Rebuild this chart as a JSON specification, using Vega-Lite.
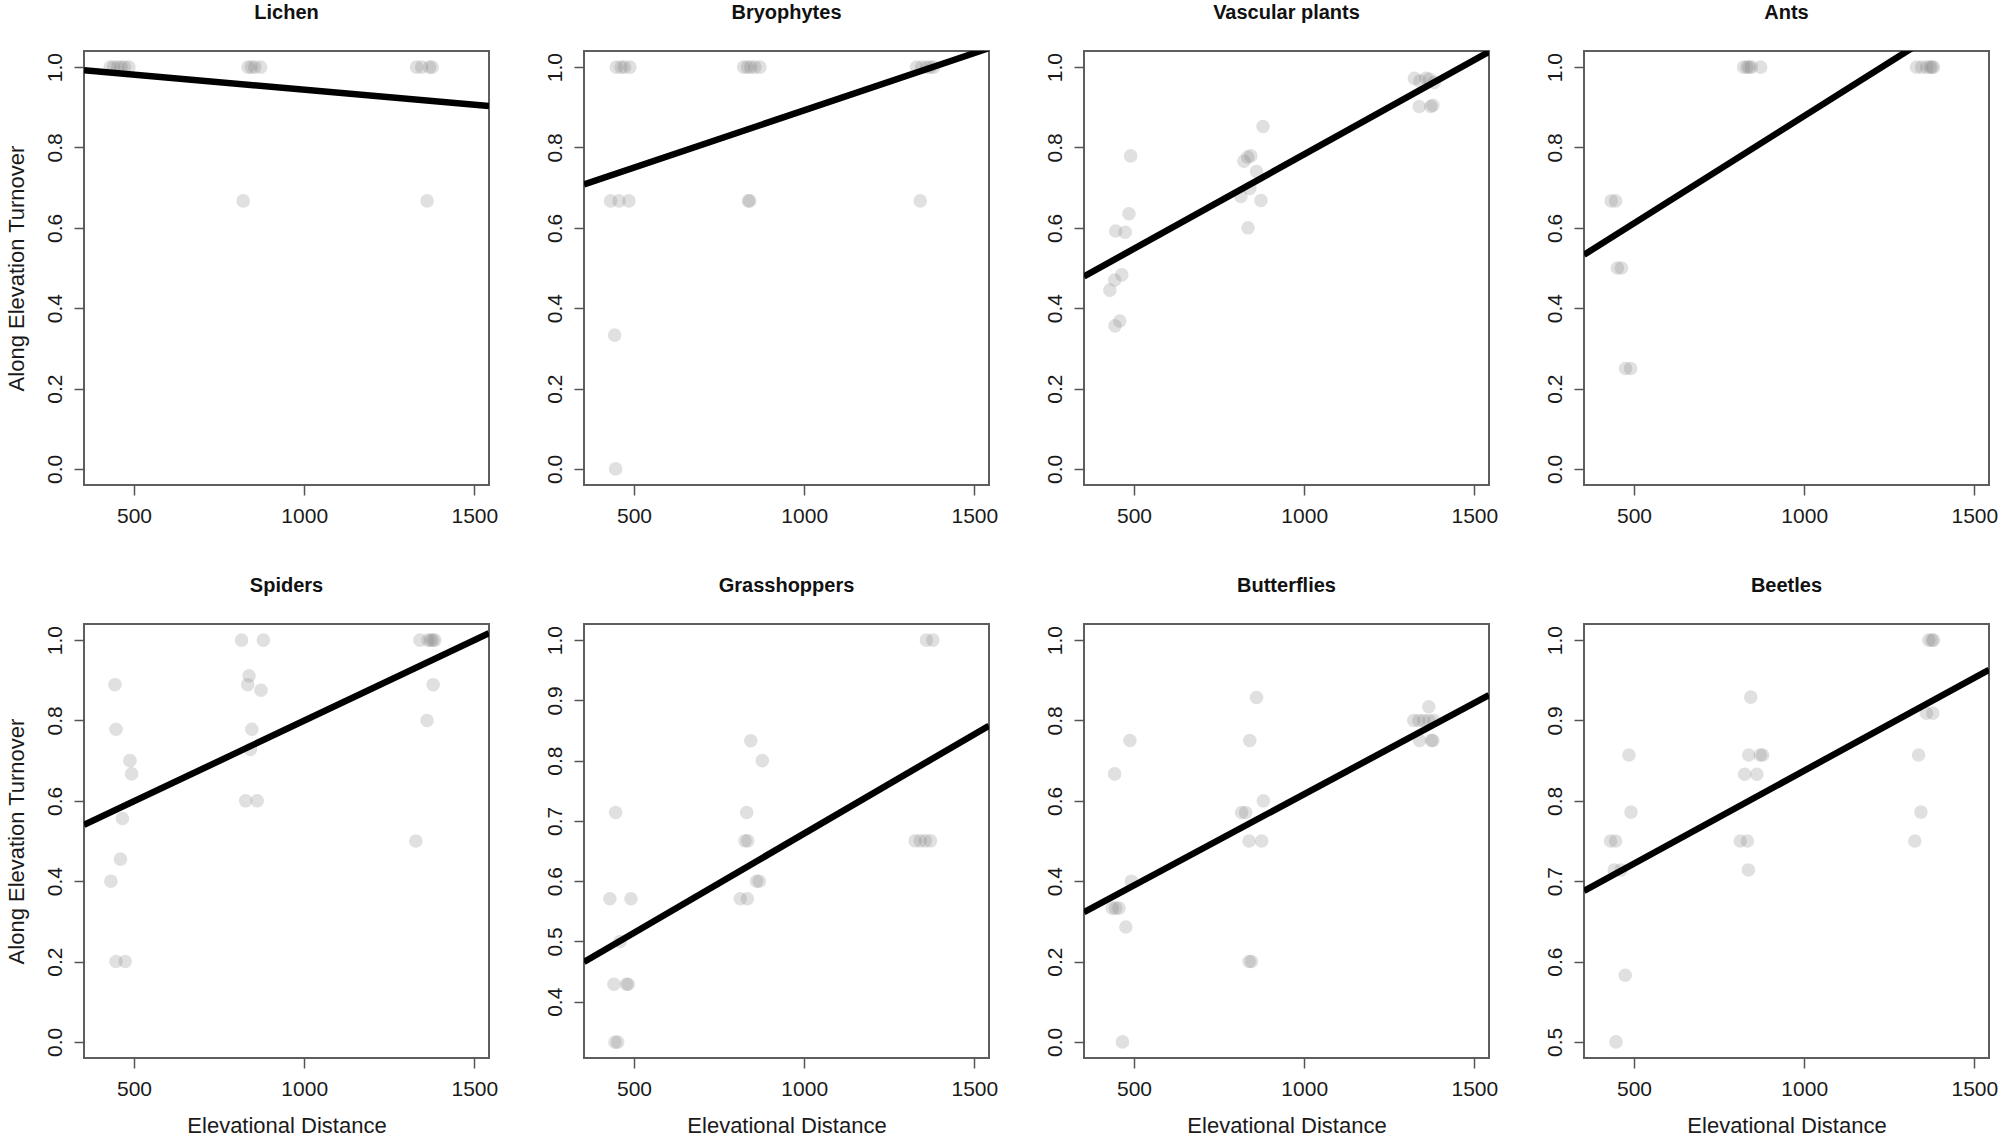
{
  "$schema": "https://vega.github.io/schema/vega-lite/v6.json",
  "background": "white",
  "padding": {"left": 4, "top": 2, "right": 5, "bottom": 2},
  "bounds": "flush",
  "columns": 4,
  "spacing": {"row": 139, "column": 95},
  "datasets": {
    "pts": [
      {"panel": "Lichen", "x": 430, "y": 1.0}, {"panel": "Lichen", "x": 440, "y": 1.0}, {"panel": "Lichen", "x": 452, "y": 1.0}, {"panel": "Lichen", "x": 462, "y": 1.0}, {"panel": "Lichen", "x": 472, "y": 1.0}, {"panel": "Lichen", "x": 485, "y": 1.0},
      {"panel": "Lichen", "x": 835, "y": 1.0}, {"panel": "Lichen", "x": 845, "y": 1.0}, {"panel": "Lichen", "x": 855, "y": 1.0}, {"panel": "Lichen", "x": 872, "y": 1.0},
      {"panel": "Lichen", "x": 1330, "y": 1.0}, {"panel": "Lichen", "x": 1345, "y": 1.0}, {"panel": "Lichen", "x": 1368, "y": 1.0}, {"panel": "Lichen", "x": 1376, "y": 1.0},
      {"panel": "Lichen", "x": 821, "y": 0.667}, {"panel": "Lichen", "x": 1361, "y": 0.667},

      {"panel": "Bryophytes", "x": 448, "y": 1.0}, {"panel": "Bryophytes", "x": 462, "y": 1.0}, {"panel": "Bryophytes", "x": 472, "y": 1.0}, {"panel": "Bryophytes", "x": 488, "y": 1.0},
      {"panel": "Bryophytes", "x": 822, "y": 1.0}, {"panel": "Bryophytes", "x": 833, "y": 1.0}, {"panel": "Bryophytes", "x": 843, "y": 1.0}, {"panel": "Bryophytes", "x": 855, "y": 1.0}, {"panel": "Bryophytes", "x": 870, "y": 1.0},
      {"panel": "Bryophytes", "x": 1330, "y": 1.0}, {"panel": "Bryophytes", "x": 1345, "y": 1.0}, {"panel": "Bryophytes", "x": 1360, "y": 1.0}, {"panel": "Bryophytes", "x": 1370, "y": 1.0}, {"panel": "Bryophytes", "x": 1380, "y": 1.0},
      {"panel": "Bryophytes", "x": 431, "y": 0.667}, {"panel": "Bryophytes", "x": 456, "y": 0.667}, {"panel": "Bryophytes", "x": 485, "y": 0.667}, {"panel": "Bryophytes", "x": 836, "y": 0.667}, {"panel": "Bryophytes", "x": 840, "y": 0.667}, {"panel": "Bryophytes", "x": 1341, "y": 0.667},
      {"panel": "Bryophytes", "x": 443, "y": 0.333}, {"panel": "Bryophytes", "x": 446, "y": 0.0},

      {"panel": "Vascular plants", "x": 1324, "y": 0.972}, {"panel": "Vascular plants", "x": 1340, "y": 0.965}, {"panel": "Vascular plants", "x": 1358, "y": 0.972}, {"panel": "Vascular plants", "x": 1368, "y": 0.970}, {"panel": "Vascular plants", "x": 1382, "y": 0.962},
      {"panel": "Vascular plants", "x": 1338, "y": 0.902}, {"panel": "Vascular plants", "x": 1372, "y": 0.902}, {"panel": "Vascular plants", "x": 1378, "y": 0.905},
      {"panel": "Vascular plants", "x": 879, "y": 0.852}, {"panel": "Vascular plants", "x": 490, "y": 0.779}, {"panel": "Vascular plants", "x": 823, "y": 0.766}, {"panel": "Vascular plants", "x": 834, "y": 0.776}, {"panel": "Vascular plants", "x": 843, "y": 0.779},
      {"panel": "Vascular plants", "x": 860, "y": 0.740}, {"panel": "Vascular plants", "x": 840, "y": 0.698}, {"panel": "Vascular plants", "x": 814, "y": 0.678}, {"panel": "Vascular plants", "x": 873, "y": 0.668}, {"panel": "Vascular plants", "x": 835, "y": 0.600},
      {"panel": "Vascular plants", "x": 485, "y": 0.635}, {"panel": "Vascular plants", "x": 446, "y": 0.592}, {"panel": "Vascular plants", "x": 474, "y": 0.589}, {"panel": "Vascular plants", "x": 464, "y": 0.483}, {"panel": "Vascular plants", "x": 443, "y": 0.470},
      {"panel": "Vascular plants", "x": 429, "y": 0.445}, {"panel": "Vascular plants", "x": 458, "y": 0.368}, {"panel": "Vascular plants", "x": 444, "y": 0.356},

      {"panel": "Ants", "x": 822, "y": 1.0}, {"panel": "Ants", "x": 832, "y": 1.0}, {"panel": "Ants", "x": 838, "y": 1.0}, {"panel": "Ants", "x": 845, "y": 1.0}, {"panel": "Ants", "x": 872, "y": 1.0},
      {"panel": "Ants", "x": 1330, "y": 1.0}, {"panel": "Ants", "x": 1345, "y": 1.0}, {"panel": "Ants", "x": 1360, "y": 1.0}, {"panel": "Ants", "x": 1370, "y": 1.0}, {"panel": "Ants", "x": 1375, "y": 1.0}, {"panel": "Ants", "x": 1380, "y": 1.0},
      {"panel": "Ants", "x": 433, "y": 0.667}, {"panel": "Ants", "x": 446, "y": 0.667}, {"panel": "Ants", "x": 451, "y": 0.5}, {"panel": "Ants", "x": 463, "y": 0.5}, {"panel": "Ants", "x": 475, "y": 0.25}, {"panel": "Ants", "x": 490, "y": 0.25},

      {"panel": "Spiders", "x": 816, "y": 1.0}, {"panel": "Spiders", "x": 880, "y": 1.0}, {"panel": "Spiders", "x": 1340, "y": 1.0}, {"panel": "Spiders", "x": 1364, "y": 1.0}, {"panel": "Spiders", "x": 1372, "y": 1.0}, {"panel": "Spiders", "x": 1378, "y": 1.0}, {"panel": "Spiders", "x": 1384, "y": 1.0},
      {"panel": "Spiders", "x": 444, "y": 0.889}, {"panel": "Spiders", "x": 447, "y": 0.778}, {"panel": "Spiders", "x": 488, "y": 0.700}, {"panel": "Spiders", "x": 493, "y": 0.667}, {"panel": "Spiders", "x": 466, "y": 0.556},
      {"panel": "Spiders", "x": 460, "y": 0.455}, {"panel": "Spiders", "x": 432, "y": 0.400}, {"panel": "Spiders", "x": 447, "y": 0.200}, {"panel": "Spiders", "x": 474, "y": 0.200},
      {"panel": "Spiders", "x": 838, "y": 0.911}, {"panel": "Spiders", "x": 834, "y": 0.889}, {"panel": "Spiders", "x": 873, "y": 0.875}, {"panel": "Spiders", "x": 846, "y": 0.778}, {"panel": "Spiders", "x": 842, "y": 0.728},
      {"panel": "Spiders", "x": 828, "y": 0.600}, {"panel": "Spiders", "x": 862, "y": 0.600}, {"panel": "Spiders", "x": 1379, "y": 0.889}, {"panel": "Spiders", "x": 1361, "y": 0.800}, {"panel": "Spiders", "x": 1328, "y": 0.500},

      {"panel": "Grasshoppers", "x": 1359, "y": 1.0}, {"panel": "Grasshoppers", "x": 1378, "y": 1.0}, {"panel": "Grasshoppers", "x": 843, "y": 0.833}, {"panel": "Grasshoppers", "x": 877, "y": 0.800},
      {"panel": "Grasshoppers", "x": 446, "y": 0.714}, {"panel": "Grasshoppers", "x": 831, "y": 0.714}, {"panel": "Grasshoppers", "x": 826, "y": 0.667}, {"panel": "Grasshoppers", "x": 834, "y": 0.667},
      {"panel": "Grasshoppers", "x": 1326, "y": 0.667}, {"panel": "Grasshoppers", "x": 1341, "y": 0.667}, {"panel": "Grasshoppers", "x": 1356, "y": 0.667}, {"panel": "Grasshoppers", "x": 1371, "y": 0.667},
      {"panel": "Grasshoppers", "x": 860, "y": 0.600}, {"panel": "Grasshoppers", "x": 868, "y": 0.600}, {"panel": "Grasshoppers", "x": 429, "y": 0.571}, {"panel": "Grasshoppers", "x": 491, "y": 0.571},
      {"panel": "Grasshoppers", "x": 812, "y": 0.571}, {"panel": "Grasshoppers", "x": 833, "y": 0.571}, {"panel": "Grasshoppers", "x": 459, "y": 0.500}, {"panel": "Grasshoppers", "x": 441, "y": 0.429},
      {"panel": "Grasshoppers", "x": 478, "y": 0.429}, {"panel": "Grasshoppers", "x": 483, "y": 0.429}, {"panel": "Grasshoppers", "x": 444, "y": 0.333}, {"panel": "Grasshoppers", "x": 452, "y": 0.333},

      {"panel": "Butterflies", "x": 860, "y": 0.857}, {"panel": "Butterflies", "x": 1366, "y": 0.834}, {"panel": "Butterflies", "x": 1322, "y": 0.800}, {"panel": "Butterflies", "x": 1337, "y": 0.800},
      {"panel": "Butterflies", "x": 1351, "y": 0.800}, {"panel": "Butterflies", "x": 1366, "y": 0.800}, {"panel": "Butterflies", "x": 1381, "y": 0.800}, {"panel": "Butterflies", "x": 1339, "y": 0.750},
      {"panel": "Butterflies", "x": 1374, "y": 0.750}, {"panel": "Butterflies", "x": 1378, "y": 0.750}, {"panel": "Butterflies", "x": 488, "y": 0.750}, {"panel": "Butterflies", "x": 840, "y": 0.750},
      {"panel": "Butterflies", "x": 443, "y": 0.667}, {"panel": "Butterflies", "x": 880, "y": 0.600}, {"panel": "Butterflies", "x": 816, "y": 0.571}, {"panel": "Butterflies", "x": 828, "y": 0.571},
      {"panel": "Butterflies", "x": 838, "y": 0.500}, {"panel": "Butterflies", "x": 875, "y": 0.500}, {"panel": "Butterflies", "x": 492, "y": 0.400}, {"panel": "Butterflies", "x": 436, "y": 0.333},
      {"panel": "Butterflies", "x": 446, "y": 0.333}, {"panel": "Butterflies", "x": 456, "y": 0.333}, {"panel": "Butterflies", "x": 476, "y": 0.286}, {"panel": "Butterflies", "x": 838, "y": 0.200},
      {"panel": "Butterflies", "x": 845, "y": 0.200}, {"panel": "Butterflies", "x": 466, "y": 0.0},

      {"panel": "Beetles", "x": 1366, "y": 1.0}, {"panel": "Beetles", "x": 1375, "y": 1.0}, {"panel": "Beetles", "x": 1380, "y": 1.0}, {"panel": "Beetles", "x": 843, "y": 0.929},
      {"panel": "Beetles", "x": 1359, "y": 0.909}, {"panel": "Beetles", "x": 1378, "y": 0.909}, {"panel": "Beetles", "x": 485, "y": 0.857}, {"panel": "Beetles", "x": 837, "y": 0.857},
      {"panel": "Beetles", "x": 871, "y": 0.857}, {"panel": "Beetles", "x": 878, "y": 0.857}, {"panel": "Beetles", "x": 1336, "y": 0.857}, {"panel": "Beetles", "x": 825, "y": 0.833},
      {"panel": "Beetles", "x": 861, "y": 0.833}, {"panel": "Beetles", "x": 491, "y": 0.786}, {"panel": "Beetles", "x": 1343, "y": 0.786}, {"panel": "Beetles", "x": 431, "y": 0.750},
      {"panel": "Beetles", "x": 446, "y": 0.750}, {"panel": "Beetles", "x": 812, "y": 0.750}, {"panel": "Beetles", "x": 833, "y": 0.750}, {"panel": "Beetles", "x": 1325, "y": 0.750},
      {"panel": "Beetles", "x": 442, "y": 0.714}, {"panel": "Beetles", "x": 462, "y": 0.714}, {"panel": "Beetles", "x": 836, "y": 0.714}, {"panel": "Beetles", "x": 474, "y": 0.583},
      {"panel": "Beetles", "x": 447, "y": 0.500}
    ],
    "fit": [
      {"panel": "Lichen", "x": 353, "y": 0.992}, {"panel": "Lichen", "x": 1543, "y": 0.903},
      {"panel": "Bryophytes", "x": 353, "y": 0.708}, {"panel": "Bryophytes", "x": 1543, "y": 1.047},
      {"panel": "Vascular plants", "x": 353, "y": 0.479}, {"panel": "Vascular plants", "x": 1543, "y": 1.038},
      {"panel": "Ants", "x": 353, "y": 0.533}, {"panel": "Ants", "x": 1543, "y": 1.168},
      {"panel": "Spiders", "x": 353, "y": 0.540}, {"panel": "Spiders", "x": 1543, "y": 1.017},
      {"panel": "Grasshoppers", "x": 353, "y": 0.466}, {"panel": "Grasshoppers", "x": 1543, "y": 0.858},
      {"panel": "Butterflies", "x": 353, "y": 0.323}, {"panel": "Butterflies", "x": 1543, "y": 0.863},
      {"panel": "Beetles", "x": 353, "y": 0.688}, {"panel": "Beetles", "x": 1543, "y": 0.963}
    ]
  },
  "concat": [
    {
      "title": "Lichen", "width": 405, "height": 434,
      "layer": [
        {"data": {"name": "pts"}, "transform": [{"filter": "datum.panel === 'Lichen'"}], "mark": {"type": "circle", "size": 185, "color": "#787878", "opacity": 0.23},
         "encoding": {"x": {"field": "x", "type": "quantitative", "scale": {"domain": [353, 1543], "nice": false, "zero": false}, "axis": {"values": [500, 1000, 1500], "format": "d", "title": null}},
                      "y": {"field": "y", "type": "quantitative", "scale": {"domain": [-0.04, 1.04], "nice": false, "zero": false}, "axis": {"values": [0, 0.2, 0.4, 0.6, 0.8, 1.0], "format": ".1f", "title": "Along Elevation Turnover"}}}},
        {"data": {"name": "fit"}, "transform": [{"filter": "datum.panel === 'Lichen'"}], "mark": {"type": "line", "color": "black", "strokeWidth": 6.5, "clip": true},
         "encoding": {"x": {"field": "x", "type": "quantitative"}, "y": {"field": "y", "type": "quantitative"}}}
      ]
    },
    {
      "title": "Bryophytes", "width": 405, "height": 434,
      "layer": [
        {"data": {"name": "pts"}, "transform": [{"filter": "datum.panel === 'Bryophytes'"}], "mark": {"type": "circle", "size": 185, "color": "#787878", "opacity": 0.23},
         "encoding": {"x": {"field": "x", "type": "quantitative", "scale": {"domain": [353, 1543], "nice": false, "zero": false}, "axis": {"values": [500, 1000, 1500], "format": "d", "title": null}},
                      "y": {"field": "y", "type": "quantitative", "scale": {"domain": [-0.04, 1.04], "nice": false, "zero": false}, "axis": {"values": [0, 0.2, 0.4, 0.6, 0.8, 1.0], "format": ".1f", "title": null}}}},
        {"data": {"name": "fit"}, "transform": [{"filter": "datum.panel === 'Bryophytes'"}], "mark": {"type": "line", "color": "black", "strokeWidth": 6.5, "clip": true},
         "encoding": {"x": {"field": "x", "type": "quantitative"}, "y": {"field": "y", "type": "quantitative"}}}
      ]
    },
    {
      "title": "Vascular plants", "width": 405, "height": 434,
      "layer": [
        {"data": {"name": "pts"}, "transform": [{"filter": "datum.panel === 'Vascular plants'"}], "mark": {"type": "circle", "size": 185, "color": "#787878", "opacity": 0.23},
         "encoding": {"x": {"field": "x", "type": "quantitative", "scale": {"domain": [353, 1543], "nice": false, "zero": false}, "axis": {"values": [500, 1000, 1500], "format": "d", "title": null}},
                      "y": {"field": "y", "type": "quantitative", "scale": {"domain": [-0.04, 1.04], "nice": false, "zero": false}, "axis": {"values": [0, 0.2, 0.4, 0.6, 0.8, 1.0], "format": ".1f", "title": null}}}},
        {"data": {"name": "fit"}, "transform": [{"filter": "datum.panel === 'Vascular plants'"}], "mark": {"type": "line", "color": "black", "strokeWidth": 6.5, "clip": true},
         "encoding": {"x": {"field": "x", "type": "quantitative"}, "y": {"field": "y", "type": "quantitative"}}}
      ]
    },
    {
      "title": "Ants", "width": 405, "height": 434,
      "layer": [
        {"data": {"name": "pts"}, "transform": [{"filter": "datum.panel === 'Ants'"}], "mark": {"type": "circle", "size": 185, "color": "#787878", "opacity": 0.23},
         "encoding": {"x": {"field": "x", "type": "quantitative", "scale": {"domain": [353, 1543], "nice": false, "zero": false}, "axis": {"values": [500, 1000, 1500], "format": "d", "title": null}},
                      "y": {"field": "y", "type": "quantitative", "scale": {"domain": [-0.04, 1.04], "nice": false, "zero": false}, "axis": {"values": [0, 0.2, 0.4, 0.6, 0.8, 1.0], "format": ".1f", "title": null}}}},
        {"data": {"name": "fit"}, "transform": [{"filter": "datum.panel === 'Ants'"}], "mark": {"type": "line", "color": "black", "strokeWidth": 6.5, "clip": true},
         "encoding": {"x": {"field": "x", "type": "quantitative"}, "y": {"field": "y", "type": "quantitative"}}}
      ]
    },
    {
      "title": "Spiders", "width": 405, "height": 434,
      "layer": [
        {"data": {"name": "pts"}, "transform": [{"filter": "datum.panel === 'Spiders'"}], "mark": {"type": "circle", "size": 185, "color": "#787878", "opacity": 0.23},
         "encoding": {"x": {"field": "x", "type": "quantitative", "scale": {"domain": [353, 1543], "nice": false, "zero": false}, "axis": {"values": [500, 1000, 1500], "format": "d", "title": "Elevational Distance"}},
                      "y": {"field": "y", "type": "quantitative", "scale": {"domain": [-0.04, 1.04], "nice": false, "zero": false}, "axis": {"values": [0, 0.2, 0.4, 0.6, 0.8, 1.0], "format": ".1f", "title": "Along Elevation Turnover"}}}},
        {"data": {"name": "fit"}, "transform": [{"filter": "datum.panel === 'Spiders'"}], "mark": {"type": "line", "color": "black", "strokeWidth": 6.5, "clip": true},
         "encoding": {"x": {"field": "x", "type": "quantitative"}, "y": {"field": "y", "type": "quantitative"}}}
      ]
    },
    {
      "title": "Grasshoppers", "width": 405, "height": 434,
      "layer": [
        {"data": {"name": "pts"}, "transform": [{"filter": "datum.panel === 'Grasshoppers'"}], "mark": {"type": "circle", "size": 185, "color": "#787878", "opacity": 0.23},
         "encoding": {"x": {"field": "x", "type": "quantitative", "scale": {"domain": [353, 1543], "nice": false, "zero": false}, "axis": {"values": [500, 1000, 1500], "format": "d", "title": "Elevational Distance"}},
                      "y": {"field": "y", "type": "quantitative", "scale": {"domain": [0.3067, 1.0267], "nice": false, "zero": false}, "axis": {"values": [0.4, 0.5, 0.6, 0.7, 0.8, 0.9, 1.0], "format": ".1f", "title": null}}}},
        {"data": {"name": "fit"}, "transform": [{"filter": "datum.panel === 'Grasshoppers'"}], "mark": {"type": "line", "color": "black", "strokeWidth": 6.5, "clip": true},
         "encoding": {"x": {"field": "x", "type": "quantitative"}, "y": {"field": "y", "type": "quantitative"}}}
      ]
    },
    {
      "title": "Butterflies", "width": 405, "height": 434,
      "layer": [
        {"data": {"name": "pts"}, "transform": [{"filter": "datum.panel === 'Butterflies'"}], "mark": {"type": "circle", "size": 185, "color": "#787878", "opacity": 0.23},
         "encoding": {"x": {"field": "x", "type": "quantitative", "scale": {"domain": [353, 1543], "nice": false, "zero": false}, "axis": {"values": [500, 1000, 1500], "format": "d", "title": "Elevational Distance"}},
                      "y": {"field": "y", "type": "quantitative", "scale": {"domain": [-0.04, 1.04], "nice": false, "zero": false}, "axis": {"values": [0, 0.2, 0.4, 0.6, 0.8, 1.0], "format": ".1f", "title": null}}}},
        {"data": {"name": "fit"}, "transform": [{"filter": "datum.panel === 'Butterflies'"}], "mark": {"type": "line", "color": "black", "strokeWidth": 6.5, "clip": true},
         "encoding": {"x": {"field": "x", "type": "quantitative"}, "y": {"field": "y", "type": "quantitative"}}}
      ]
    },
    {
      "title": "Beetles", "width": 405, "height": 434,
      "layer": [
        {"data": {"name": "pts"}, "transform": [{"filter": "datum.panel === 'Beetles'"}], "mark": {"type": "circle", "size": 185, "color": "#787878", "opacity": 0.23},
         "encoding": {"x": {"field": "x", "type": "quantitative", "scale": {"domain": [353, 1543], "nice": false, "zero": false}, "axis": {"values": [500, 1000, 1500], "format": "d", "title": "Elevational Distance"}},
                      "y": {"field": "y", "type": "quantitative", "scale": {"domain": [0.48, 1.02], "nice": false, "zero": false}, "axis": {"values": [0.5, 0.6, 0.7, 0.8, 0.9, 1.0], "format": ".1f", "title": null}}}},
        {"data": {"name": "fit"}, "transform": [{"filter": "datum.panel === 'Beetles'"}], "mark": {"type": "line", "color": "black", "strokeWidth": 6.5, "clip": true},
         "encoding": {"x": {"field": "x", "type": "quantitative"}, "y": {"field": "y", "type": "quantitative"}}}
      ]
    }
  ],
  "resolve": {"scale": {"x": "independent", "y": "independent"}},
  "config": {
    "font": "Liberation Sans",
    "view": {"stroke": "#5e5e5e", "strokeWidth": 2},
    "axis": {"grid": false, "domain": false, "tickColor": "#555555", "tickWidth": 1.5, "tickSize": 10, "labelFontSize": 21, "labelColor": "#1a1a1a", "labelFont": "Liberation Sans", "labelFlush": false, "labelOverlap": false, "titleFontSize": 22, "titleFontWeight": "normal", "titleColor": "#1a1a1a", "titleFont": "Liberation Sans"},
    "axisX": {"labelAngle": 0, "labelPadding": 10, "titlePadding": 16},
    "axisY": {"labelAngle": -90, "labelAlign": "center", "labelBaseline": "alphabetic", "labelPadding": 13, "titlePadding": 16},
    "title": {"fontSize": 20, "fontWeight": "bold", "color": "#111111", "offset": 28, "anchor": "middle", "font": "Liberation Sans"}
  }
}
